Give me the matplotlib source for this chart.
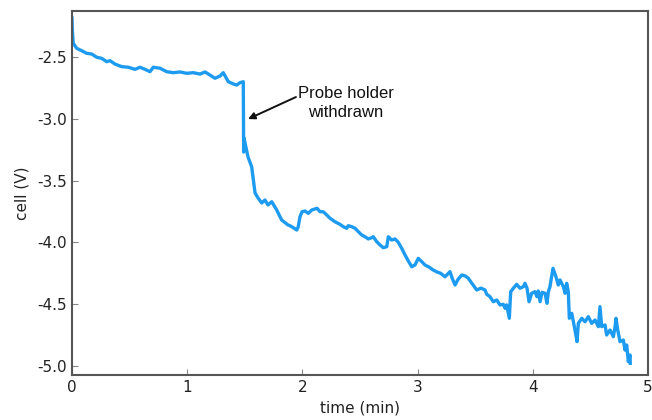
"""Cell voltage trace while the probe holder is withdrawn."""

import matplotlib

matplotlib.use("Agg")
import matplotlib.pyplot as plt

# time (min) and cell voltage (V)
time_min = [
    # slow decay before the withdrawal
    0.000, 0.003, 0.011, 0.041, 0.084, 0.127, 0.171, 0.214, 0.258, 0.301,
    0.330, 0.373, 0.431, 0.489, 0.547, 0.590, 0.634, 0.677, 0.706, 0.764,
    0.822, 0.879, 0.938, 0.996, 1.053, 1.111, 1.155, 1.198, 1.241, 1.285,
    1.313, 1.357, 1.400, 1.430, 1.458, 1.487,
    # step and recovery
    1.490, 1.493, 1.528, 1.560, 1.589, 1.615, 1.647, 1.675, 1.701, 1.734,
    1.777, 1.820, 1.875, 1.892, 1.921, 1.951, 1.964, 1.979, 1.997, 2.023,
    2.051, 2.081, 2.109, 2.127, 2.153, 2.181, 2.211, 2.240, 2.283, 2.326,
    2.355, 2.385, 2.398, 2.428, 2.457, 2.485, 2.515, 2.543, 2.572, 2.602,
    2.615, 2.645, 2.674, 2.702, 2.732, 2.746, 2.775, 2.804, 2.832, 2.862,
    2.891, 2.919, 2.949, 2.977, 3.006, 3.036, 3.064,
    3.100, 3.134, 3.170, 3.200, 3.238, 3.281, 3.300,
    3.325, 3.350, 3.383, 3.410, 3.438, 3.470, 3.513, 3.550, 3.585, 3.600,
    # noisy tail
    3.628, 3.657, 3.687, 3.715, 3.744, 3.759, 3.773, 3.787, 3.796, 3.808,
    3.831, 3.860, 3.889, 3.918, 3.932, 3.950, 3.967, 3.990, 4.019, 4.036,
    4.047, 4.063, 4.080, 4.106, 4.123, 4.135, 4.149, 4.175, 4.201, 4.221,
    4.236, 4.265, 4.280, 4.294, 4.308, 4.317, 4.338, 4.352, 4.366, 4.384,
    4.395, 4.425, 4.453, 4.482, 4.511, 4.540, 4.569, 4.583, 4.598, 4.627,
    4.641, 4.670, 4.699, 4.714, 4.722, 4.737, 4.757, 4.786, 4.800, 4.815,
    4.829, 4.844, 4.846,
]
cell_v = [
    -2.184, -2.282, -2.389, -2.430, -2.449, -2.470, -2.476, -2.502, -2.511, -2.538,
    -2.530, -2.557, -2.578, -2.583, -2.600, -2.583, -2.600, -2.619, -2.583, -2.591,
    -2.619, -2.627, -2.621, -2.632, -2.627, -2.638, -2.621, -2.646, -2.672, -2.654,
    -2.627, -2.700, -2.718, -2.727, -2.708, -2.700,
    -3.269, -3.155, -3.309, -3.390, -3.600, -3.641, -3.681, -3.657, -3.697, -3.671,
    -3.738, -3.819, -3.859, -3.865, -3.881, -3.900, -3.873, -3.792, -3.752, -3.746,
    -3.765, -3.738, -3.730, -3.724, -3.752, -3.752, -3.778, -3.805, -3.833, -3.854,
    -3.873, -3.886, -3.865, -3.873, -3.886, -3.913, -3.940, -3.954, -3.972, -3.962,
    -3.954, -3.994, -4.021, -4.043, -4.035, -3.954, -3.981, -3.972, -3.999, -4.048,
    -4.102, -4.150, -4.197, -4.183, -4.129, -4.156, -4.183,
    -4.200, -4.223, -4.240, -4.250, -4.278, -4.237, -4.290,
    -4.345, -4.300, -4.264, -4.270, -4.288, -4.330, -4.385, -4.370, -4.385, -4.420,
    -4.439, -4.480, -4.466, -4.506, -4.501, -4.533, -4.506, -4.574, -4.614, -4.399,
    -4.371, -4.339, -4.371, -4.358, -4.331, -4.371, -4.480, -4.412, -4.399, -4.439,
    -4.393, -4.480, -4.404, -4.412, -4.493, -4.399, -4.358, -4.210, -4.278, -4.345,
    -4.304, -4.358, -4.412, -4.331, -4.399, -4.614, -4.574, -4.642, -4.709, -4.803,
    -4.655, -4.614, -4.642, -4.601, -4.655, -4.628, -4.682, -4.520, -4.682, -4.668,
    -4.749, -4.709, -4.763, -4.682, -4.614, -4.709, -4.803, -4.790, -4.871, -4.830,
    -4.965, -4.911, -4.978,
]

x_ticks = [0, 1, 2, 3, 4, 5]
y_ticks = [-5.0, -4.5, -4.0, -3.5, -3.0, -2.5]

fig = plt.figure(figsize=(6.52, 4.2), dpi=100)
ax = fig.add_axes([0.1104, 0.1071, 0.8835, 0.8667])

ax.plot(time_min, cell_v, color="#1d9bf0", lw=2.4, solid_joinstyle="round")

ax.set_xlim(0, 5)
ax.set_ylim(-5.073, -2.128)
ax.set_xticks(x_ticks)
ax.set_yticks(y_ticks)
ax.set_yticklabels([f"{v:.1f}" for v in y_ticks])
ax.tick_params(direction="in", length=4, width=0.8, color="#888888",
               labelsize=11, labelcolor="#222222", top=False, right=False)
for side in ax.spines.values():
    side.set_color("#555555")
    side.set_linewidth(1.5)

ax.set_xlabel("time (min)", fontsize=11, color="#222222", labelpad=4)
ax.set_ylabel("cell (V)", fontsize=11, color="#222222", labelpad=6)

# arrow and label drawn separately so the tail sits right next to the text
ax.annotate(
    "", xy=(1.528, -3.002), xytext=(1.944, -2.824),
    arrowprops=dict(arrowstyle="-|>", color="#111111", lw=1.4,
                    shrinkA=0, shrinkB=0, mutation_scale=10),
)
ax.text(2.378, -2.872, "Probe holder\nwithdrawn", ha="center", va="center",
        fontsize=12, family="Liberation Sans", color="#111111", linespacing=1.3)

fig.savefig("out.png", dpi=100)
